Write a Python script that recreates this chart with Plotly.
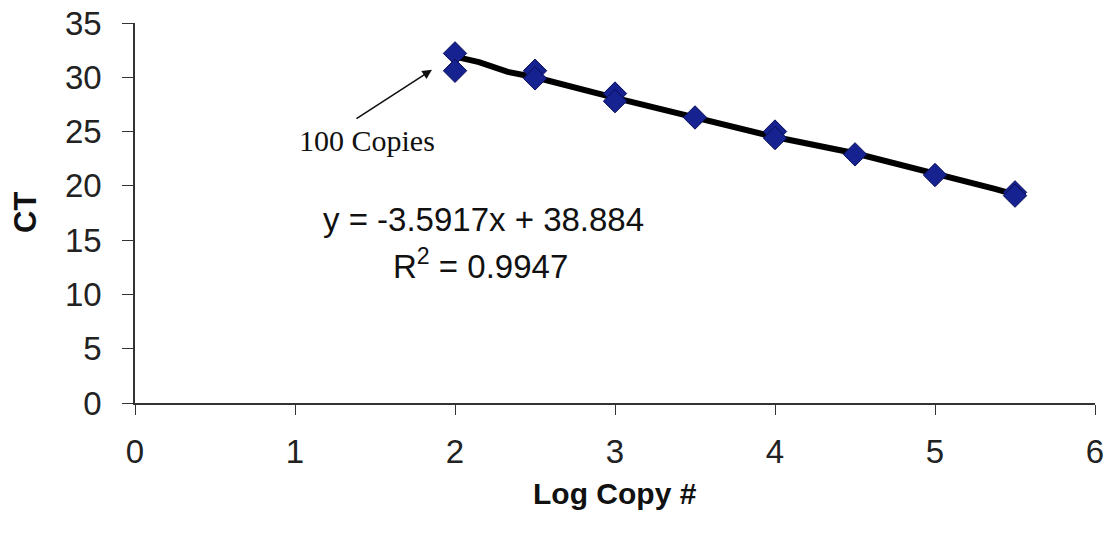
import plotly.graph_objects as go

# Data
log_copy = [2, 2, 2.5, 2.5, 3, 3, 3.5, 4, 4, 4.5, 5, 5.5, 5.5]
ct = [32.2, 30.6, 30.6, 29.9, 28.5, 27.8, 26.3, 25.0, 24.4, 22.9, 21.0, 19.4, 19.1]

line_x = [2, 2.15, 2.33, 2.5, 3, 3.5, 4, 4.5, 5, 5.38, 5.5]
line_y = [31.9, 31.4, 30.5, 30.0, 28.1, 26.3, 24.5, 23.0, 21.2, 19.7, 19.2]

x_ticks = [0, 1, 2, 3, 4, 5, 6]
y_ticks = [0, 5, 10, 15, 20, 25, 30, 35]

SANS = "Liberation Sans, Arial"
SERIF = "Liberation Serif, Times New Roman"

fig = go.Figure()
fig.add_trace(go.Scatter(
    x=line_x, y=line_y, mode="lines",
    line=dict(color="black", width=6), showlegend=False))
fig.add_trace(go.Scatter(
    x=log_copy, y=ct, mode="markers",
    marker=dict(symbol="diamond", size=18, color="#16228f",
                line=dict(color="#0a0f5a", width=1)),
    showlegend=False))

fig.add_annotation(x=2.175, y=16.9, text="y = -3.5917x + 38.884", showarrow=False,
                   font=dict(family=SANS, size=33, color="#111"))
fig.add_annotation(x=2.16, y=12.8, text="R<sup>2</sup> = 0.9947", showarrow=False,
                   font=dict(family=SANS, size=33, color="#111"))
fig.add_annotation(x=1.45, y=24.2, text="100 Copies", showarrow=False,
                   font=dict(family=SERIF, size=30, color="#111"))
fig.add_annotation(x=1.856, y=30.7, ax=1.375, ay=26.1, axref="x", ayref="y",
                   text="", showarrow=True, arrowhead=2, arrowsize=1.2,
                   arrowwidth=1.6, arrowcolor="#111")

# axis titles
fig.add_annotation(xref="paper", yref="paper", x=0.5, y=0, yshift=-90,
                   text="<b>Log Copy #</b>", showarrow=False, yanchor="middle",
                   font=dict(family=SANS, size=30, color="#111"))
fig.add_annotation(xref="paper", yref="paper", x=0, y=0.5, xshift=-110,
                   text="<b>CT</b>", showarrow=False, textangle=-90, xanchor="center",
                   font=dict(family=SANS, size=31, color="#111"))

fig.update_layout(
    width=1099, height=523,
    margin=dict(l=127, r=12, t=15, b=128),
    plot_bgcolor="white", paper_bgcolor="white",
    font=dict(family=SANS, color="#222"),
)
fig.update_xaxes(range=[0, 6], tickvals=x_ticks, showgrid=False, zeroline=False,
                 showline=True, linecolor="#333", linewidth=1.5,
                 ticks="outside", ticklen=10, tickcolor="#333",
                 tickfont=dict(size=33), ticklabelstandoff=9, automargin=False,
                 ticklabeloverflow="allow")
fig.update_yaxes(range=[0, 35], tickvals=y_ticks, showgrid=False, zeroline=False,
                 showline=True, linecolor="#333", linewidth=1.5,
                 ticks="outside", ticklen=11, tickcolor="#333",
                 tickfont=dict(size=33), ticklabelstandoff=14, automargin=False,
                 ticklabeloverflow="allow")

fig.write_html("out.html")
